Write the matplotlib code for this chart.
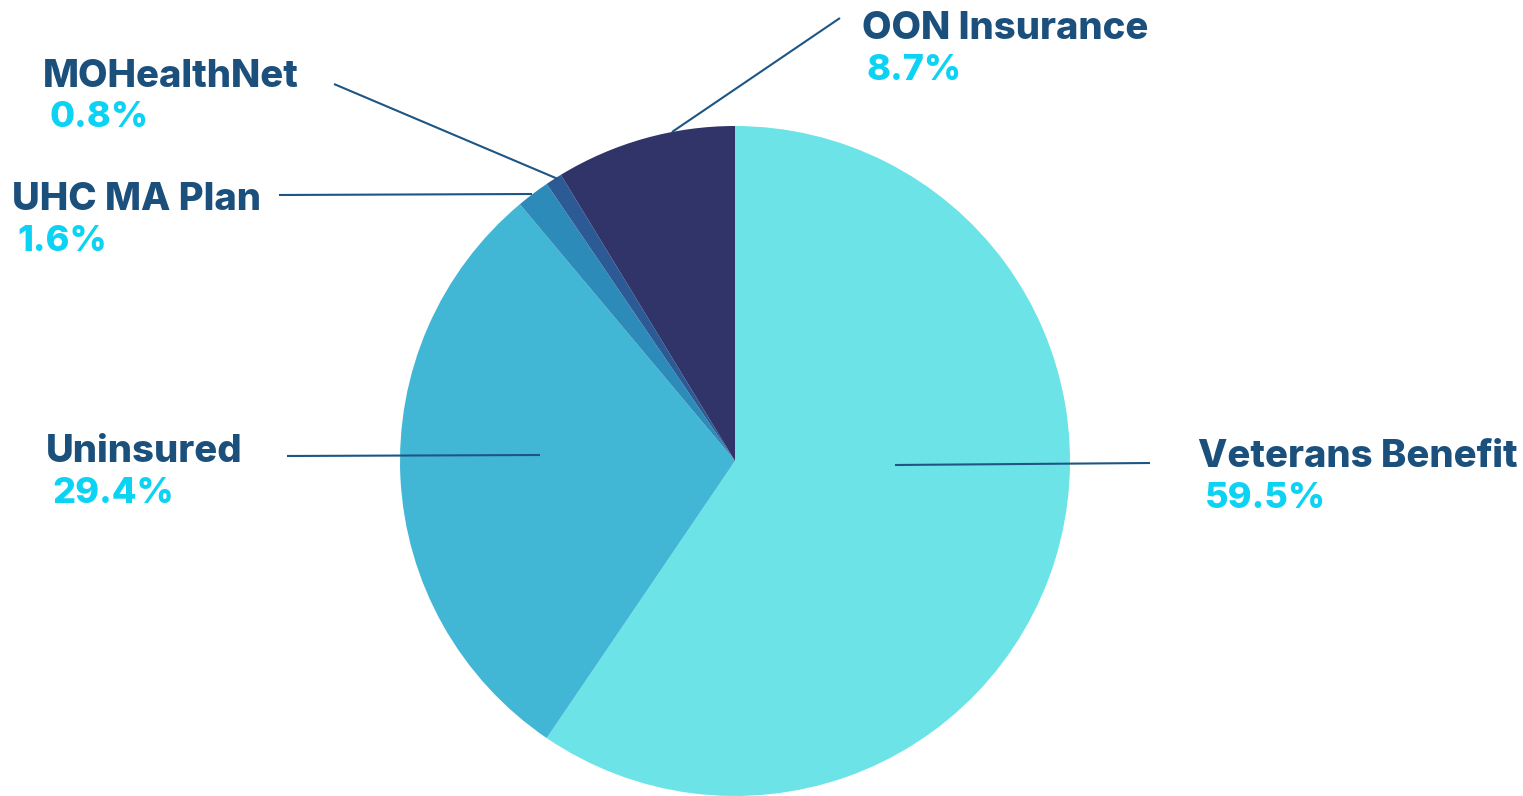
import matplotlib
matplotlib.use("Agg")
import matplotlib.pyplot as plt

categories = ["Veterans Benefit", "Uninsured", "UHC MA Plan", "MOHealthNet", "OON Insurance"]
shares = [59.5, 29.4, 1.6, 0.8, 8.7]
pct_labels = ["59.5%", "29.4%", "1.6%", "0.8%", "8.7%"]
colors = ["#6ce3e7", "#42b7d5", "#2c8bb9", "#2b5a94", "#303468"]

W, H = 1523, 796
fig = plt.figure(figsize=(W / 100, H / 100), dpi=100)
ax = fig.add_axes([0, 0, 1, 1])
ax.set_xlim(0, W)
ax.set_ylim(0, H)
ax.set_aspect("equal")
ax.axis("off")

def P(x, y):
    return (x, H - y)

cx, cy = P(735, 461)
ax.pie(shares, colors=colors, startangle=90, counterclock=False,
       center=(cx, cy), radius=335, frame=True,
       wedgeprops=dict(linewidth=0))
ax.set_xlim(0, W)
ax.set_ylim(0, H)
ax.axis("off")

line_c = "#1d5684"
leaders = {
    "Veterans Benefit": ((895, 465), (1150, 463)),
    "Uninsured": ((540, 455), (287, 456)),
    "UHC MA Plan": ((532, 194), (279, 195)),
    "MOHealthNet": ((558, 179), (334, 84)),
    "OON Insurance": ((672, 132), (840, 18)),
}
for name, (a, b) in leaders.items():
    pa, pb = P(*a), P(*b)
    ax.plot([pa[0], pb[0]], [pa[1], pb[1]], color=line_c, lw=1.5, solid_capstyle="butt")

label_pos = {
    "Veterans Benefit": ((1198, 467), (1205, 508)),
    "Uninsured": ((46, 462), (52, 503)),
    "UHC MA Plan": ((12, 210), (17, 251)),
    "MOHealthNet": ((43, 87), (50, 127)),
    "OON Insurance": ((862, 39), (867, 80)),
}
font = "Inter"
for name, pct in zip(categories, pct_labels):
    (lx, ly), (px, py) = label_pos[name]
    ax.text(*P(lx, ly), name, fontsize=27.5, fontweight="heavy", family=font,
            color="#1b4f7c", ha="left", va="baseline")
    ax.text(*P(px, py), pct, fontsize=26, fontweight="heavy", family=font,
            color="#0cd3f4", ha="left", va="baseline")

fig.savefig("out.png", dpi=100)
